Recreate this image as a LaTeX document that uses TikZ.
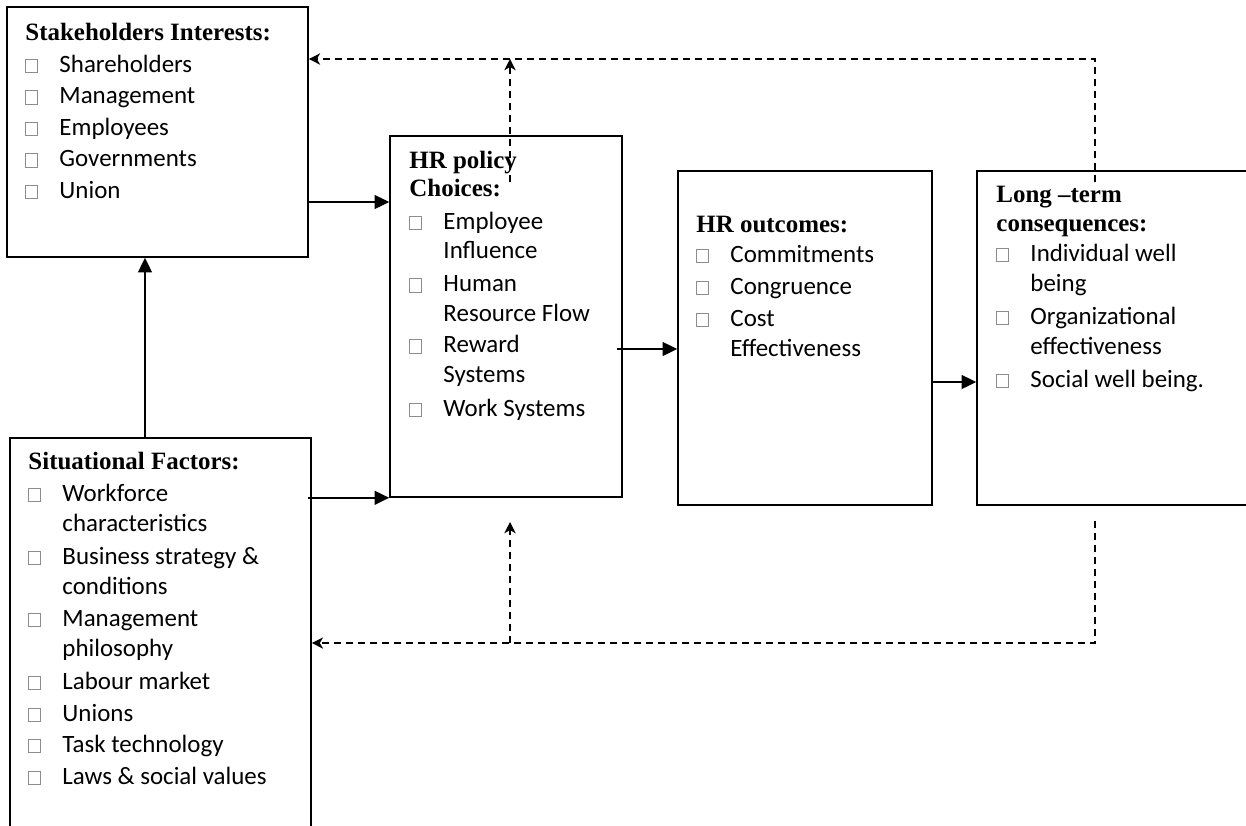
\documentclass[tikz,border=0pt]{standalone}
\usepackage{fontspec}
\setmainfont{Liberation Serif}
\newfontfamily\calfont{Carlito}
\usetikzlibrary{arrows.meta,fit,calc}

\newcommand{\sqb}{\makebox[25.5pt][l]{\textcolor{black!45}{\setlength{\fboxsep}{0pt}\setlength{\fboxrule}{0.6pt}\fbox{\rule{0pt}{9.4pt}\hspace{8.4pt}}}}}
\newcommand{\itemind}{\hspace*{25.5pt}}
\newcommand{\ttl}[1]{{\rmfamily\bfseries #1}}

\begin{document}
\begin{tikzpicture}[x=0.75pt,y=-0.75pt,
  box/.style={draw,line width=1.2pt,inner sep=0pt},
  txt/.style={anchor=base west,align=left,inner sep=0pt,font=\calfont\fontsize{18.7}{22.5}\selectfont},
  arr/.style={-{Triangle[length=11pt,width=10.5pt]},line width=1.1pt},
  fb/.style={-{Stealth[length=8.5pt,width=8.5pt,inset=2.5pt]},line width=1pt,dash pattern=on 5.5pt off 3.5pt}]
  \clip (0,0) rectangle (1246,825);

  % boxes
  \node[box,fit={(7,7) (308,257)}] (stake) {};
  \node[box,fit={(390,136) (622,497)}] (policy) {};
  \node[box,fit={(678,171) (932,505)}] (outcomes) {};
  \node[box,fit={(977,171) (1275,505)}] (long) {};
  \node[box,fit={(10,438) (311,850)}] (sit) {};

  % texts (placed by the baseline of their last line)
  \node[txt] (stakeT) at ($(stake.north west)+(19,192)$) {\ttl{Stakeholders Interests:}\\[1.1pt]
    \sqb Shareholders\\[1.1pt]
    \sqb Management\\[1.1pt]
    \sqb Employees\\[1.1pt]
    \sqb Governments\\[1.1pt]
    \sqb Union};
  \node[txt] (policyT) at ($(policy.north west)+(20,281)$) {\ttl{HR policy}\\[-1.5pt]
    \ttl{Choices:}\\[2.25pt]
    \sqb Employee\\[-0.75pt]
    \itemind Influence\\[2.6pt]
    \sqb Human\\
    \itemind Resource Flow\\[0.75pt]
    \sqb Reward\\
    \itemind Systems\\[2.6pt]
    \sqb Work Systems};
  \node[txt] (outcomesT) at ($(outcomes.north west)+(19,186)$) {\ttl{HR outcomes:}\\
    \sqb Commitments\\[1.5pt]
    \sqb Congruence\\[1.5pt]
    \sqb Cost\\
    \itemind Effectiveness};
  \node[txt] (longT) at ($(long.north west)+(20,217)$) {\ttl{Long –term}\\[-0.75pt]
    \ttl{consequences:}\\
    \sqb Individual well\\
    \itemind being\\[2.25pt]
    \sqb Organizational\\
    \itemind effectiveness\\[2.25pt]
    \sqb Social well being.};
  \node[txt] (sitT) at ($(sit.north west)+(19,347)$) {\ttl{Situational Factors:}\\[1.5pt]
    \sqb Workforce\\
    \itemind characteristics\\[2.25pt]
    \sqb Business strategy \&\\
    \itemind conditions\\[1.5pt]
    \sqb Management\\
    \itemind philosophy\\[2.25pt]
    \sqb Labour market\\[1.5pt]
    \sqb Unions\\[0.75pt]
    \sqb Task technology\\[1.5pt]
    \sqb Laws \& social values};

  % solid connectors
  \coordinate (upx) at (145,0);
  \coordinate (sp) at (0,202);
  \coordinate (oc) at (0,349);
  \coordinate (lc) at (0,382);
  \draw[arr] (sit.north -| upx) -- (stake.south -| upx);
  \draw[arr] (stake.east |- sp) -- (policy.west |- sp);
  \draw[arr] ([xshift=-3pt]sit.east |- policy.south) -- (policy.south west);
  \draw[arr] ([xshift=-4pt]policy.east |- oc) -- (outcomes.west |- oc);
  \draw[arr] (outcomes.east |- lc) -- (long.west |- lc);

  % feedback (dashed)
  \coordinate (fbtop) at (1095,182);
  \coordinate (fbtopy) at (0,59);
  \coordinate (polup) at (510,182);
  \coordinate (fbbot) at (1095,521);
  \coordinate (fbboty) at (0,643);
  \coordinate (sitbr) at (510,643);
  \coordinate (poldown) at (510,522);
  \draw[fb] (fbtop) |- (stake.east |- fbtopy);
  \draw[fb] (polup) -- (polup |- fbtopy);
  \draw[fb] (fbbot) |- (sit.east |- fbboty);
  \draw[fb] (sitbr) -- (poldown);
\end{tikzpicture}
\end{document}
